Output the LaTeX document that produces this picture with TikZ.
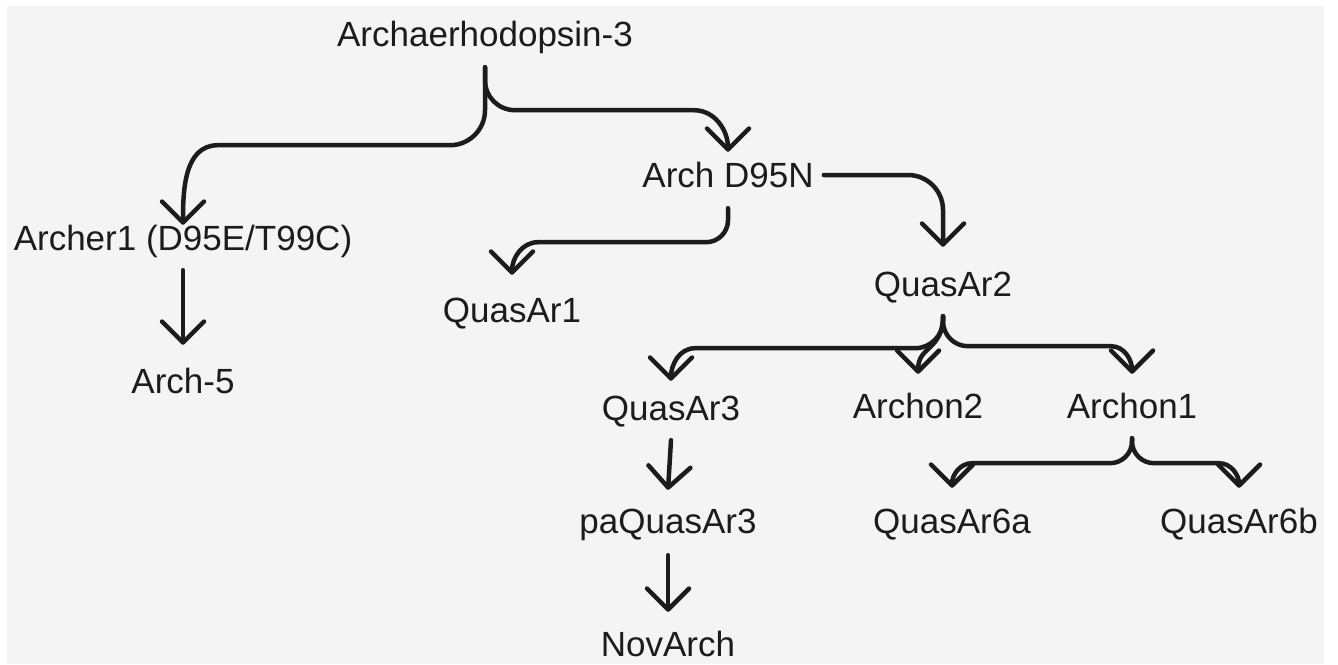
\documentclass[tikz,border=0pt]{standalone}
\usepackage{fontspec}
\setmainfont{Liberation Sans}
\usetikzlibrary{arrows.meta,calc}
\definecolor{bg}{HTML}{F4F4F4}
\definecolor{ink}{HTML}{1C1C1C}
\begin{document}
\begin{tikzpicture}[x=1pt,y=-1pt,
  lbl/.style={anchor=base, inner sep=0pt, text height=26pt, text depth=8pt,
    font=\fontsize{35}{40}\selectfont, text=ink},
  conn/.style={draw=ink, line width=4.5pt, line cap=round, line join=round,
    -{Straight Barb[length=21pt,width=42pt,round]}},
]
\useasboundingbox (0,0) rectangle (1338,664);
\fill[white] (0,0) rectangle (1338,664);
\fill[bg] (7,6) rectangle (1324,664);

% nodes
\node[lbl] (a3)     at (485,46)  {Archaerhodopsin-3};
\node[lbl] (d95n)   at (728,187) {Arch D95N};
\node[lbl] (archer) at (183,250) {Archer1 (D95E/T99C)};
\node[lbl] (arch5)  at (183,393) {Arch-5};
\node[lbl] (q1)     at (512,322) {QuasAr1};
\node[lbl] (q2)     at (943,296) {QuasAr2};
\node[lbl] (q3)     at (671,420) {QuasAr3};
\node[lbl] (a2)     at (918,418) {Archon2};
\node[lbl] (a1)     at (1132,418) {Archon1};
\node[lbl] (pa)     at (668,533) {paQuasAr3};
\node[lbl] (q6a)    at (952,533) {QuasAr6a};
\node[lbl] (q6b)    at (1239,533) {QuasAr6b};
\node[lbl] (nov)    at (668,656) {NovArch};

% connector end points, tied to the nodes
\coordinate (sA3)  at ([yshift=-13pt]a3.south);
\coordinate (tD)   at ([yshift=9pt]d95n.north);
\coordinate (tAr)  at ([yshift=-1pt]archer.north);
\coordinate (sD)   at ([yshift=-13pt]d95n.south);
\coordinate (tQ1)  at ([yshift=21pt]q1.north);
\coordinate (sQ2)  at ([yshift=-12pt]q2.south);
\coordinate (tQ3)  at ([yshift=13pt]q3.north);
\coordinate (tA2)  at ([yshift=18pt]a2.north);
\coordinate (tA1)  at ([yshift=18pt]a1.north);
\coordinate (sA1)  at ([yshift=-12pt]a1.south);
\coordinate (tQ6a) at ([yshift=19pt]q6a.north);
\coordinate (tQ6b) at ([yshift=19pt]q6b.north);

% Archaerhodopsin-3 fork
\draw[conn] (sA3) -- ++(0,13) to[out=-90,in=180] ++(30,30)
  -- ($(tD |- sA3)+(-34,43)$) to[out=0,in=90] (tD);
\draw[conn] (sA3) -- ++(0,43) to[out=-90,in=0] ++(-35,35)
  -- ($(tAr |- sA3)+(35,78)$) to[out=180,in=90] (tAr);

% Archer1 -> Arch-5
\draw[conn] ([yshift=-12pt]archer.south) -- ([yshift=22pt]arch5.north);

% Arch D95N -> QuasAr1, QuasAr2
\draw[conn] (sD) -- ++(0,12) to[out=-90,in=0] ++(-22,22)
  -- ($(tQ1 |- sD)+(26,34)$) to[out=180,in=90] (tQ1);
\draw[conn, rounded corners=35pt] ([xshift=10pt,yshift=3pt]d95n.east) -| ([yshift=23pt]q2.north);

% QuasAr2 fork
\draw[conn] (sQ2) -- ++(0,4) to[out=-90,in=0] ++(-28,28)
  -- ($(tQ3 |- sQ2)+(24,32)$) to[out=180,in=90] (tQ3);
\draw[conn] (sQ2) -- ++(0,5) to[out=-90,in=180] ++(25,25)
  -- ($(tA1 |- sQ2)+(-21,30)$) to[out=0,in=90] (tA1);
\draw[conn] (sQ2) .. controls +(0,34) and +(0,-28) .. (tA2);

% QuasAr3 -> paQuasAr3 -> NovArch
\draw[conn] ([yshift=-12pt]q3.south) -- ([yshift=17pt]pa.north);
\draw[conn] ([yshift=-14pt]pa.south) -- ([yshift=18pt]nov.north);

% Archon1 fork
\draw[conn] (sA1) -- ++(0,3) to[out=-90,in=0] ++(-22,22)
  -- ($(tQ6a |- sA1)+(20,25)$) to[out=180,in=90] (tQ6a);
\draw[conn] (sA1) -- ++(0,3) to[out=-90,in=180] ++(22,22)
  -- ($(tQ6b |- sA1)+(-20,25)$) to[out=0,in=90] (tQ6b);
\end{tikzpicture}
\end{document}
